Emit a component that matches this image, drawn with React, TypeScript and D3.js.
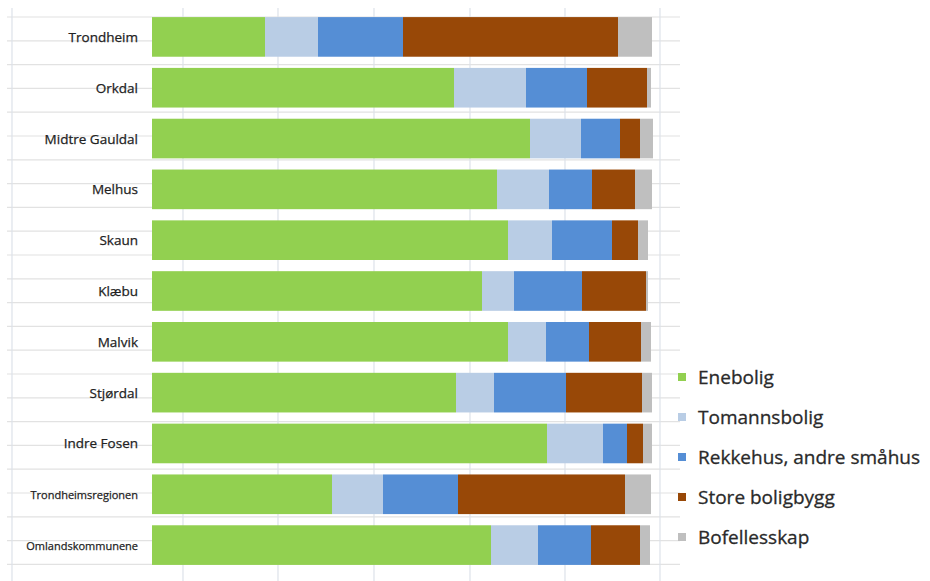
import React from "react";
import * as d3 from "d3";

const categories = [
  "Trondheim",
  "Orkdal",
  "Midtre Gauldal",
  "Melhus",
  "Skaun",
  "Klæbu",
  "Malvik",
  "Stjørdal",
  "Indre Fosen",
  "Trondheimsregionen",
  "Omlandskommunene",
];

const seriesNames = [
  "Enebolig",
  "Tomannsbolig",
  "Rekkehus, andre småhus",
  "Store boligbygg",
  "Bofellesskap",
];

const enebolig = [22.6, 60.4, 75.6, 69.0, 71.2, 66.0, 71.2, 60.8, 79.0, 36.0, 67.8];
const tomannsbolig = [10.6, 14.4, 10.2, 10.4, 8.8, 6.4, 7.6, 7.6, 11.2, 10.2, 9.4];
const rekkehus = [17.0, 12.2, 7.8, 8.6, 12.0, 13.6, 8.6, 14.4, 4.8, 15.0, 10.6];
const storeBoligbygg = [43.0, 12.0, 4.0, 8.6, 5.2, 12.8, 10.4, 15.2, 3.2, 33.4, 9.8];
const bofellesskap = [6.8, 0.8, 2.6, 3.4, 2.0, 0.4, 2.0, 2.0, 1.8, 5.2, 2.0];

const xDomain = [0, 100];

const colors = ["#92d050", "#b9cde5", "#558ed5", "#984807", "#bfbfbf"];

const smallLabels = new Set(["Trondheimsregionen", "Omlandskommunene"]);

export default function App() {
  const W = 930;
  const H = 581;
  const seriesValues = [enebolig, tomannsbolig, rekkehus, storeBoligbygg, bofellesskap];
  const rows = categories.map((c, i) => {
    const r: any = { cat: c };
    seriesNames.forEach((s, j) => (r[s] = seriesValues[j][i]));
    return r;
  });
  const stacked = d3.stack<any>().keys(seriesNames)(rows);

  const x = d3.scaleLinear().domain(xDomain).range([152, 652]);
  const y = d3
    .scaleBand<string>()
    .domain(categories)
    .range([11.5, 570.5])
    .paddingInner(0.22)
    .paddingOuter(0.11);

  // spreadsheet background grid
  const hLines = d3.range(17, H + 1, 23.8);
  const vLines = [12, 183, 278, 374, 470, 565, 660];

  const font = "'Open Sans', 'Noto Sans', sans-serif";

  return (
    <svg
      width={W}
      height={H}
      style={{ position: "absolute", left: 0, top: 0, background: "#fff" }}
    >
      <g>
        {hLines.map((yy, i) => (
          <line key={"h" + i} x1={7} x2={680} y1={yy} y2={yy} stroke="#e2e2e2" strokeWidth={1.2} />
        ))}
        {vLines.map((xx, i) => (
          <line key={"v" + i} x1={xx} x2={xx} y1={8} y2={H} stroke="#dde2ea" strokeWidth={1.2} />
        ))}
      </g>
      <g>
        {stacked.map((s, j) => (
          <g key={s.key} fill={colors[j]}>
            {s.map((d, i) => (
              <rect
                key={i}
                x={x(d[0])}
                width={Math.max(0, x(d[1]) - x(d[0]))}
                y={y(categories[i])}
                height={y.bandwidth()}
              />
            ))}
          </g>
        ))}
      </g>
      <g fontFamily={font} fill="#222">
        {categories.map((c) => (
          <text
            key={c}
            x={138}
            y={(y(c) as number) + y.bandwidth() / 2}
            textAnchor="end"
            dominantBaseline="central"
            fontSize={smallLabels.has(c) ? 11 : 13.5}
            stroke="#222"
            strokeWidth={0.25}
          >
            {c}
          </text>
        ))}
      </g>
      <g fontFamily={font}>
        {seriesNames.map((s, j) => {
          const cy = 377 + j * 40;
          return (
            <g key={s}>
              <rect x={678} y={cy - 4} width={8} height={8} fill={colors[j]} />
              <text
                x={698}
                y={cy}
                dominantBaseline="central"
                fontSize={19}
                fill="#2a2a2a"
                stroke="#2a2a2a"
                strokeWidth={0.3}
              >
                {s}
              </text>
            </g>
          );
        })}
      </g>
    </svg>
  );
}
